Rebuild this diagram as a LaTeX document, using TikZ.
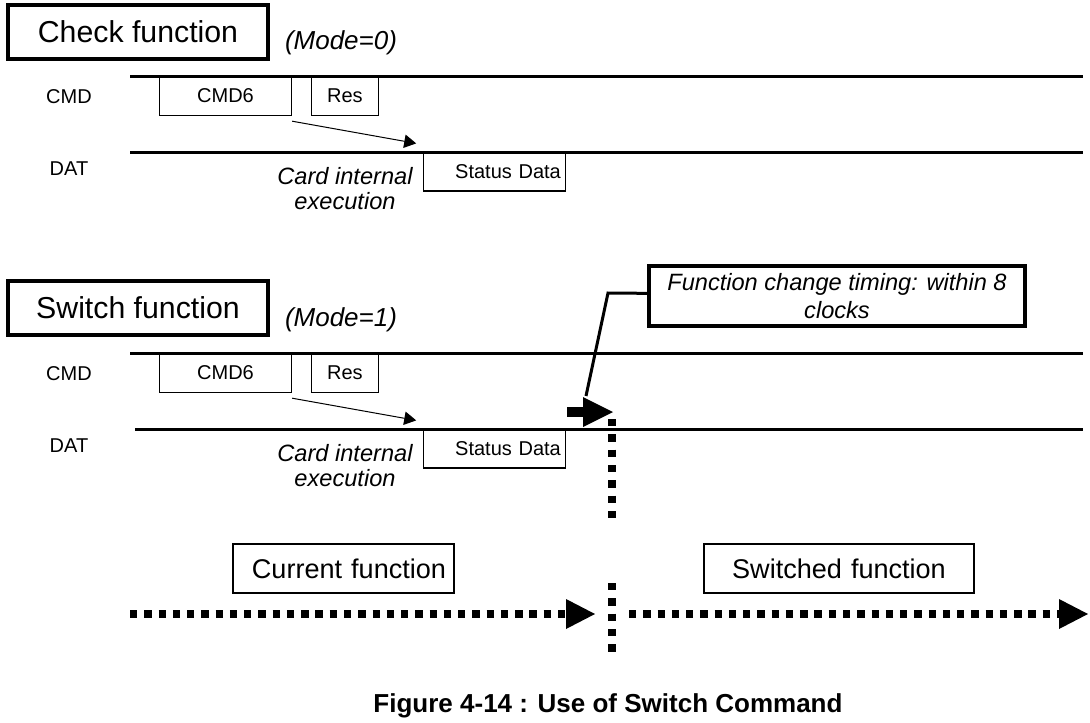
\documentclass[tikz,border=0pt]{standalone}
\usepackage{fontspec}
\setmainfont{Liberation Sans}
\usepackage{tikz}
\usetikzlibrary{shapes,arrows,arrows.meta}
\usetikzlibrary{positioning,fit}
\tikzstyle{title} = [rectangle, draw, line width=3pt, minimum width=195pt,
    minimum height=40.5pt, inner sep=0pt, font=\fontsize{22.7}{26}\selectfont]
\tikzstyle{mode} = [font=\fontsize{19.5}{23}\selectfont\itshape]
\tikzstyle{sig} = [font=\fontsize{15}{18}\selectfont]
\tikzstyle{bit} = [rectangle, draw, line width=0.9pt, minimum height=29.25pt,
    inner sep=0pt, font=\fontsize{15}{18}\selectfont]
\tikzstyle{note} = [align=center, font=\fontsize{17.7}{18.75}\selectfont\itshape]
\tikzstyle{timing} = [rectangle, draw, line width=3pt, minimum width=282pt,
    minimum height=45pt, align=center, inner sep=0pt,
    font=\fontsize{17.7}{21}\selectfont\itshape]
\tikzstyle{func} = [rectangle, draw, line width=1.5pt, minimum height=36.75pt,
    inner ysep=0pt, font=\fontsize{20.3}{24}\selectfont]
\tikzstyle{bus} = [line width=2.25pt]
\tikzstyle{dots} = [line width=6pt, dash pattern=on 5.5pt off 5.2pt]
\tikzstyle{vdots} = [line width=6pt, dash pattern=on 5.6pt off 5.9pt]

\begin{document}
\begin{tikzpicture}[x=0.75pt, y=-0.75pt, node distance = 89.6pt]
  \useasboundingbox (0,0) rectangle (1090,722);
  % Place nodes: check function
  \node [title] (check) at (138,31.5) {Check function};
  \node [mode] (mode0) at (341,43) {(Mode=0)};
  \node [sig] (CMD1) at (69,97) {CMD};
  \node [sig] (DAT1) at (69,169) {DAT};
  \node [bit, minimum width=99pt] (CMD61) at (225.5,95.75) {CMD6};
  \node [bit, minimum width=50.25pt, right of=CMD61] (Res1) {Res};
  \node [bit, text width=99.5pt, inner xsep=3.5pt, align=right] (Status1)
  at (494.5,171.5) {Status Data};
  \node [note] (exec1) at (345,189) {Card internal\\execution};
  % Place nodes: switch function
  \node [title] (switch) at (138,308) {Switch function};
  \node [mode] (mode1) at (341,320) {(Mode=1)};
  \node [sig] (CMD2) at (69,374) {CMD};
  \node [sig] (DAT2) at (69,446) {DAT};
  \node [bit, minimum width=99pt] (CMD62) at (225.5,372.75) {CMD6};
  \node [bit, minimum width=50.25pt, right of=CMD62] (Res2) {Res};
  \node [bit, text width=99.5pt, inner xsep=3.5pt, align=right] (Status2)
  at (494.5,448.5) {Status Data};
  \node [note] (exec2) at (345,466) {Card internal\\execution};
  \node [timing] (timing) at (837,296)
  {Function change timing: within 8\\clocks};
  \coordinate (bend) at (608,293);
  \coordinate (hit) at (586,396);
  \coordinate (chgA) at (567,412);
  \coordinate (chgB) at (613,412);
  \node [func, text width=153.75pt, inner xsep=6pt, align=right] (current)
  at (343.5,568.5) {Current function};
  \node [func, text width=184.5pt, inner xsep=9pt, align=center] (switched)
  at (839,568.5) {Switched function};
  \node [font=\fontsize{19.5}{23}\selectfont\bfseries] (caption) at (608,706)
  {Figure 4-14 : Use of Switch Command};
  % Draw buses
  \draw [bus] (130,76) -- (1083,76);
  \draw [bus] (130,152) -- (1083,152);
  \draw [bus] (130,353) -- (1083,353);
  \draw [bus] (135,429) -- (1083,429);
  % Draw edges
  \draw [-{Triangle[length=9pt,width=10pt]},line width=0.75pt]
  ([yshift=-4pt]CMD61.south east) -- ([shift={(-5pt,6pt)}]Status1.north west);
  \draw [-{Triangle[length=9pt,width=10pt]},line width=0.75pt]
  ([yshift=-4pt]CMD62.south east) -- ([shift={(-5pt,6pt)}]Status2.north west);
  \draw [line width=2.25pt] ([yshift=2pt]timing.west) -- (bend) -- (hit);
  \draw [-{Triangle[length=22.5pt,width=22.5pt,line width=0pt]},line width=7.5pt]
  (chgA) -- (chgB);
  \draw [vdots] (612,419) -- (612,519);
  \draw [vdots] (612,583) -- (612,653);
  \draw [dots,-{Triangle[length=21.75pt,width=22.5pt,line width=0pt]}]
  (130,614) -- (595,614);
  \draw [dots,-{Triangle[length=21.75pt,width=22.5pt,line width=0pt]}]
  (629,614) -- (1088,614);
\end{tikzpicture}
\end{document}
